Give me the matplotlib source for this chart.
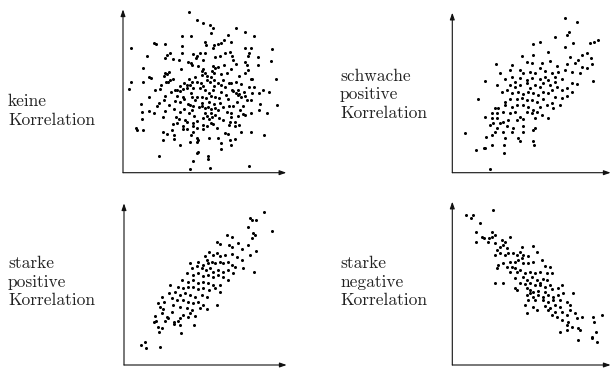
import matplotlib
matplotlib.use("Agg")
import matplotlib.pyplot as plt

# values (arbitrary units, origin at the axis corner)
keine_x = [222, 246, 266, 286, 296, 364, 390, 290, 202, 228, 340, 418, 270, 328, 350,
           118, 125, 152, 202, 274, 298, 310, 320, 48, 296, 392, 408, 472,
           166, 202, 256, 270, 236, 330, 346, 404, 400,
           98, 158, 152, 176, 192, 248, 244, 300, 316, 352, 430,
           220, 228, 266, 356, 392, 468,
           232, 250, 296, 302, 310, 328, 364, 398, 430,
           84, 200, 262, 266, 292, 350, 400,
           150, 156, 164, 270, 298, 318, 336, 390,
           148, 262, 276, 290, 372,
           104, 108, 176, 166, 224, 240, 276, 298, 326, 408, 412, 484,
           48, 84, 154, 160, 208, 232, 246, 258, 286, 310, 364, 342, 350,
           140, 196, 216, 226, 264, 298, 318, 330, 380,
           44, 122, 136, 182, 188, 206, 218, 236, 256, 272, 296, 352, 370, 402, 418, 444, 464,
           168, 196, 228, 282, 320, 354, 364, 374, 388, 412, 434,
           150, 186, 204, 232, 248, 262, 288, 302, 334, 370, 380, 392,
           104, 148, 182, 208, 240, 274, 314, 340, 396, 408,
           132, 196, 220, 226, 262, 284, 298, 316, 368, 436,
           78, 126, 162, 236, 252, 262, 280, 324, 342, 356, 386, 488,
           150, 178, 208, 232, 270, 290, 300, 310, 376, 432,
           82, 104, 118, 196, 222, 270, 288, 336, 348, 384, 408, 458,
           146, 184, 238, 276, 292, 300, 348, 370, 390,
           82, 194, 210, 266, 282, 312, 326,
           186, 218, 234, 248, 290, 296, 346, 362,
           174, 206, 236, 264, 276, 344, 360, 374,
           64, 66, 84, 172, 204, 218, 246, 264, 306,
           144, 236, 380, 410,
           158, 178, 230, 330, 340,
           146, 178, 246, 250, 282, 310, 346, 362, 448,
           196, 226, 246, 320, 350,
           320, 250, 246,
           132, 280, 280, 236,
           404, 286, 226]
keine_y = [483, 458, 448, 443, 433, 433, 423, 418, 410, 410, 413, 410, 393, 398, 393,
           388, 385, 385, 380, 383, 383, 385, 388, 373, 373, 373, 373, 370,
           360, 360, 360, 358, 356, 360, 363, 358, 350,
           350, 353, 343, 340, 338, 350, 343, 348, 350, 350, 346,
           333, 328, 338, 338, 333, 334,
           323, 320, 320, 315, 318, 323, 326, 323, 323,
           313, 310, 306, 312, 306, 310, 308,
           300, 296, 303, 300, 300, 296, 298, 300,
           290, 293, 290, 286, 290,
           286, 285, 280, 278, 280, 286, 278, 278, 278, 280, 280, 280,
           273, 273, 273, 273, 270, 273, 273, 268, 273, 270, 273, 270, 270,
           263, 260, 263, 262, 260, 260, 263, 256, 266,
           250, 248, 250, 248, 248, 250, 254, 253, 253, 248, 248, 248, 248, 256, 256, 248, 243,
           242, 246, 240, 238, 242, 246, 240, 236, 243, 238, 240,
           230, 230, 228, 228, 228, 228, 230, 228, 233, 233, 228, 230,
           226, 218, 216, 220, 218, 223, 223, 220, 218, 218,
           210, 213, 206, 203, 208, 213, 206, 208, 213, 206,
           206, 200, 203, 200, 198, 200, 198, 198, 200, 200, 200, 202,
           186, 190, 192, 188, 193, 190, 193, 188, 188, 188,
           182, 186, 180, 182, 178, 180, 178, 182, 178, 176, 178, 178,
           166, 166, 170, 170, 168, 172, 168, 170, 174,
           162, 160, 158, 163, 160, 163, 158,
           150, 152, 150, 154, 150, 146, 152, 152,
           146, 140, 140, 143, 140, 142, 140, 144,
           134, 128, 128, 128, 130, 132, 134, 132, 134,
           123, 122, 122, 122,
           116, 112, 113, 118, 116,
           98, 100, 103, 98, 104, 103, 98, 102, 113,
           83, 93, 93, 88, 83,
           70, 63, 58,
           50, 50, 40, 34,
           20, 14, 10]

# (x, y) pairs
schwach_pts = [
    (360, 463), (396, 453), (372, 423), (366, 413), (330, 406),
    (458, 398), (446, 393), (434, 388), (438, 343), (440, 326), (444, 276),
    (120, 276), (100, 220), (120, 168), (134, 142), (60, 118), (124, 108),
    (116, 74), (120, 74), (94, 68), (134, 10),
    (142, 84), (176, 82), (224, 94), (264, 94), (266, 82), (178, 58),
    (263, 386), (285, 393), (360, 376), (385, 390), (230, 350), (265, 353),
    (310, 363), (375, 348), (400, 338), (410, 353), (425, 360), (153, 326),
    (200, 323), (245, 333), (260, 328), (290, 328), (315, 336), (335, 320),
    (365, 326), (390, 328), (410, 318), (425, 313), (165, 298), (195, 308),
    (225, 308), (235, 298), (255, 303), (270, 298), (285, 313), (300, 306),
    (320, 298), (330, 288), (340, 303), (360, 308), (380, 303), (405, 298),
    (180, 280), (200, 288), (210, 273), (225, 283), (245, 278), (260, 283),
    (285, 280), (300, 286), (310, 278), (330, 273), (350, 280), (380, 268),
    (395, 266), (155, 263), (195, 263), (210, 258), (225, 263), (245, 268),
    (255, 253), (270, 263), (285, 258), (295, 268), (315, 263), (335, 258),
    (350, 248), (365, 253), (380, 243), (170, 243), (185, 248), (200, 238),
    (220, 243), (235, 236), (250, 243), (265, 238), (280, 233), (295, 243),
    (310, 238), (320, 248), (330, 226), (350, 223), (365, 230), (180, 213),
    (195, 220), (215, 220), (230, 223), (245, 218), (260, 218), (275, 213),
    (295, 220), (320, 208), (150, 193), (160, 193), (180, 203), (200, 198),
    (215, 203), (235, 203), (250, 198), (265, 188), (285, 198), (305, 203),
    (325, 193), (345, 203), (140, 178), (155, 178), (175, 183), (195, 178),
    (210, 183), (225, 168), (245, 183), (260, 178), (275, 183), (290, 173),
    (140, 163), (155, 163), (175, 153), (190, 158), (215, 158), (235, 160),
    (270, 163), (310, 163), (145, 148), (165, 148), (185, 140), (205, 133),
    (235, 140), (270, 133), (155, 133), (150, 123), (175, 123), (200, 123),
    (235, 123), (265, 128), (140, 113), (180, 103), (220, 103),
]

stark_pos_pts = [
    (164, 240), (162, 215), (140, 205), (130, 185), (148, 188), (134, 175),
    (144, 168), (120, 148), (142, 155), (156, 145), (116, 128), (124, 132),
    (150, 132), (160, 140), (130, 115), (140, 112), (132, 100), (78, 60),
    (90, 70), (94, 50), (134, 55), (190, 132), (236, 120), (178, 128),
    (176, 124), (194, 120), (198, 95), (448, 460), (404, 440), (410, 436),
    (424, 435), (400, 415), (472, 402),
    (335, 390), (350, 385), (413, 397), (421, 390), (410, 380), (305, 370),
    (315, 363), (343, 360), (350, 355), (370, 365), (400, 360), (380, 347),
    (423, 343), (405, 330), (283, 340), (293, 330), (305, 335), (315, 327),
    (330, 330), (350, 333), (365, 325), (380, 315), (270, 327), (275, 315),
    (250, 310), (265, 300), (280, 305), (290, 310), (300, 305), (315, 310),
    (325, 305), (340, 310), (350, 300), (360, 293), (383, 290), (417, 280),
    (225, 305), (230, 290), (245, 297), (260, 290), (273, 285), (285, 290),
    (295, 280), (310, 285), (325, 280), (340, 285), (355, 277), (215, 275),
    (235, 270), (250, 275), (265, 267), (280, 270), (295, 265), (310, 270),
    (325, 265), (340, 255), (200, 255), (220, 250), (235, 255), (250, 247),
    (265, 250), (280, 245), (293, 240), (315, 240), (190, 235), (205, 230),
    (220, 233), (235, 235), (250, 227), (265, 230), (283, 225), (300, 230),
    (315, 220), (180, 220), (195, 210), (210, 215), (225, 210), (240, 205),
    (260, 210), (275, 205), (170, 200), (185, 195), (205, 195), (220, 190),
    (235, 185), (250, 190), (265, 180), (305, 180), (175, 180), (195, 175),
    (215, 170), (230, 165), (255, 170), (275, 167), (170, 160), (205, 150),
    (225, 155), (240, 147), (195, 140), (220, 143),
]

stark_neg_pts = [
    (64, 450), (78, 440), (84, 450), (104, 425), (94, 400), (112, 385),
    (118, 382), (132, 380), (94, 370), (128, 370), (144, 465),
    (444, 145), (470, 150), (448, 130), (442, 85), (454, 100), (440, 80),
    (456, 70), (346, 100), (400, 75), (404, 104), (366, 104),
    (140, 400), (150, 390), (140, 385), (170, 375), (180, 370), (175, 360),
    (165, 355), (185, 350), (150, 365), (155, 345), (195, 383), (150, 330),
    (165, 335), (180, 330), (190, 337), (205, 335), (215, 330), (230, 355),
    (225, 340), (235, 330), (265, 357), (275, 340), (250, 327), (230, 320),
    (220, 315), (210, 310), (195, 310), (175, 305), (185, 295), (155, 290),
    (160, 300), (200, 295), (210, 290), (235, 305), (250, 307), (265, 310),
    (290, 315), (300, 297), (315, 295), (195, 280), (215, 280), (225, 285),
    (240, 275), (255, 280), (270, 277), (285, 280), (305, 277), (320, 277),
    (150, 247), (175, 247), (210, 260), (235, 265), (245, 255), (260, 265),
    (275, 255), (285, 247), (295, 257), (305, 255), (225, 245), (240, 243),
    (255, 245), (270, 240), (285, 240), (300, 235), (315, 240), (210, 230),
    (215, 225), (245, 230), (255, 225), (265, 220), (280, 223), (300, 220),
    (320, 227), (340, 230), (350, 240), (245, 210), (255, 215), (265, 205),
    (280, 210), (295, 205), (310, 210), (325, 205), (340, 210), (355, 215),
    (385, 215), (250, 195), (270, 195), (295, 195), (310, 190), (325, 195),
    (345, 195), (365, 190), (240, 180), (265, 175), (300, 177), (315, 170),
    (330, 180), (345, 175), (375, 180), (245, 155), (275, 165), (310, 165),
    (330, 160), (350, 160), (375, 165), (320, 150), (335, 145), (365, 150),
    (390, 155), (350, 135), (370, 130), (395, 140), (365, 120), (380, 115),
    (400, 110), (410, 143),
]

schwach_x, schwach_y = zip(*schwach_pts)
stark_pos_x, stark_pos_y = zip(*stark_pos_pts)
stark_neg_x, stark_neg_y = zip(*stark_neg_pts)

panels = [
    # x, y, axis origin (px), x range, y top, label, label position (px)
    (keine_x, keine_y, (123, 172.7), (25, 515), 490,
     "keine\nKorrelation", (8, 111)),
    (schwach_x, schwach_y, (452.3, 172.7), (22, 497), 480,
     "schwache\npositive\nKorrelation", (340, 94.5)),
    (stark_pos_x, stark_pos_y, (124, 365), (27, 515), 485,
     "starke\npositive\nKorrelation", (8, 282)),
    (stark_neg_x, stark_neg_y, (452.3, 365), (22, 497), 490,
     "starke\nnegative\nKorrelation", (340, 282)),
]

W, H = 611, 370
fig = plt.figure(figsize=(W / 100, H / 100), dpi=100)

for xs, ys, (ox, oy), (x0, x1), ytop, label, (tx, ty) in panels:
    wpx = (x1 - x0) / 3
    hpx = ytop / 3
    ax = fig.add_axes([ox / W, (H - oy) / H, wpx / W, hpx / H])
    ax.plot(xs, ys, "o", color="black", ms=2.2, mew=0, clip_on=False)
    ax.set_xlim(x0, x1)
    ax.set_ylim(0, ytop)
    ax.axis("off")
    arrow = dict(arrowstyle="-|>,head_length=0.4,head_width=0.14", lw=0.8,
                 color="#111111", shrinkA=0, shrinkB=0, mutation_scale=10)
    ax.annotate("", xy=(1, 0), xytext=(0, 0), xycoords="axes fraction",
                textcoords="axes fraction", arrowprops=arrow)
    ax.annotate("", xy=(0, 1), xytext=(0, 0), xycoords="axes fraction",
                textcoords="axes fraction", arrowprops=arrow)
    fig.text(tx / W, 1 - ty / H, label, family="cmr10", fontsize=12.5,
             color="#222222", ha="left", va="center", linespacing=1.25)

fig.savefig("out.png", dpi=100)
